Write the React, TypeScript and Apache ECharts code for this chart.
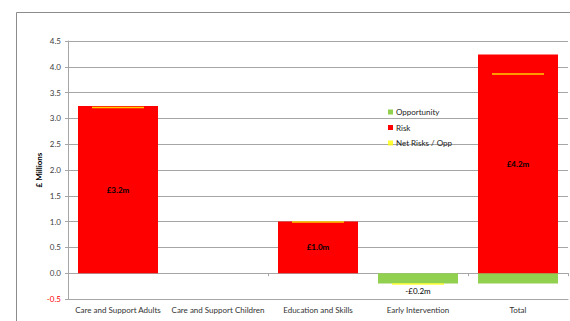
import React, { useEffect, useRef } from "react";
import * as echarts from "echarts";

const categories = [
  "Care and Support Adults",
  "Care and Support Children",
  "Education and Skills",
  "Early Intervention",
  "Total",
];
const opportunity: (number | null)[] = [null, null, null, -0.2, -0.2];
const risk: (number | null)[] = [3.24, null, 1.0, null, 4.24];
const netRisks: (number | null)[] = [3.21, null, 0.99, -0.21, 3.86];
const riskLabels = ["£3.2m", "", "£1.0m", "", "£4.2m"];
const oppLabels = ["", "", "", "-£0.2m", ""];

const FONT = "Lato";

export default function App() {
  const ref = useRef<HTMLDivElement>(null);
  useEffect(() => {
    if (!ref.current) return;
    const chart = echarts.init(ref.current, undefined, { renderer: "svg" });
    chart.setOption({
      animation: false,
      textStyle: { fontFamily: FONT },
      graphic: [
        {
          type: "rect",
          shape: { x: 16.5, y: 12.5, width: 700, height: 400 },
          style: { fill: "none", stroke: "#8c8c8c", lineWidth: 1 },
          silent: true,
          z: -10,
        },
      ],
      legend: {
        orient: "vertical",
        left: 383,
        top: 103,
        itemWidth: 5,
        itemHeight: 5,
        itemGap: 7.5,
        textStyle: { fontSize: 8, color: "#222", fontFamily: FONT, padding: [0, 0, 0, -2] },
        data: [
          { name: "Opportunity", icon: "rect" },
          { name: "Risk", icon: "rect" },
          { name: "Net Risks / Opp", icon: "rect" },
        ],
      },
      grid: { left: 68, right: 2, top: 41, bottom: 22, containLabel: false },
      xAxis: [
        {
          type: "category",
          data: categories,
          position: "bottom",
          axisLine: { onZero: false, show: true, lineStyle: { color: "#a6a6a6" } },
          axisTick: { show: false },
          axisLabel: { fontSize: 8, color: "#333", margin: 7, fontFamily: FONT, interval: 0 },
        },
        {
          type: "category",
          data: categories,
          position: "bottom",
          axisLine: { onZero: true, show: true, lineStyle: { color: "#a6a6a6" } },
          axisTick: { show: true, length: 3, lineStyle: { color: "#a6a6a6" } },
          axisLabel: { show: false },
        },
      ],
      yAxis: {
        type: "value",
        min: -0.5,
        max: 4.5,
        interval: 0.5,
        name: "£ Millions",
        nameLocation: "middle",
        nameGap: 25,
        nameMoveOverlap: false,
        nameTextStyle: { fontSize: 8, fontWeight: "bold", color: "#000", fontFamily: FONT },
        axisLine: { show: true, lineStyle: { color: "#a6a6a6" } },
        axisTick: { show: true, length: 3, lineStyle: { color: "#a6a6a6" } },
        axisLabel: {
          fontSize: 8,
          margin: 7,
          fontFamily: FONT,
          formatter: (v: number) => v.toFixed(1),
          color: (v: any) => (Number(v) < 0 ? "#ff0000" : "#404040"),
        },
        splitLine: { show: true, lineStyle: { color: "#a6a6a6" } },
      },
      series: [
        {
          name: "Opportunity",
          type: "bar",
          stack: "s",
          xAxisIndex: 0,
          barWidth: "80%",
          itemStyle: { color: "#92D050" },
          data: opportunity.map((v, i) => ({
            value: v,
            label: {
              show: oppLabels[i] !== "",
              position: "bottom",
              distance: 3,
              formatter: oppLabels[i],
              fontSize: 8,
              color: "#000",
              fontFamily: FONT,
            },
          })),
        },
        {
          name: "Risk",
          type: "bar",
          stack: "s",
          xAxisIndex: 0,
          barWidth: "80%",
          itemStyle: { color: "#FF0000" },
          data: risk.map((v, i) => ({
            value: v,
            label: {
              show: riskLabels[i] !== "",
              position: "inside",
              formatter: riskLabels[i],
              fontSize: 8,
              fontWeight: "bold",
              color: "#000",
              fontFamily: FONT,
            },
          })),
        },
        {
          name: "Net Risks / Opp",
          type: "scatter",
          xAxisIndex: 0,
          symbol: "rect",
          symbolSize: [52, 1.5],
          itemStyle: { color: "#FFFF00" },
          z: 5,
          data: netRisks,
        },
      ],
    });
    return () => chart.dispose();
  }, []);
  return (
    <div
      ref={ref}
      style={{ position: "absolute", left: 0, top: 0, width: 570, height: 321 }}
    />
  );
}
